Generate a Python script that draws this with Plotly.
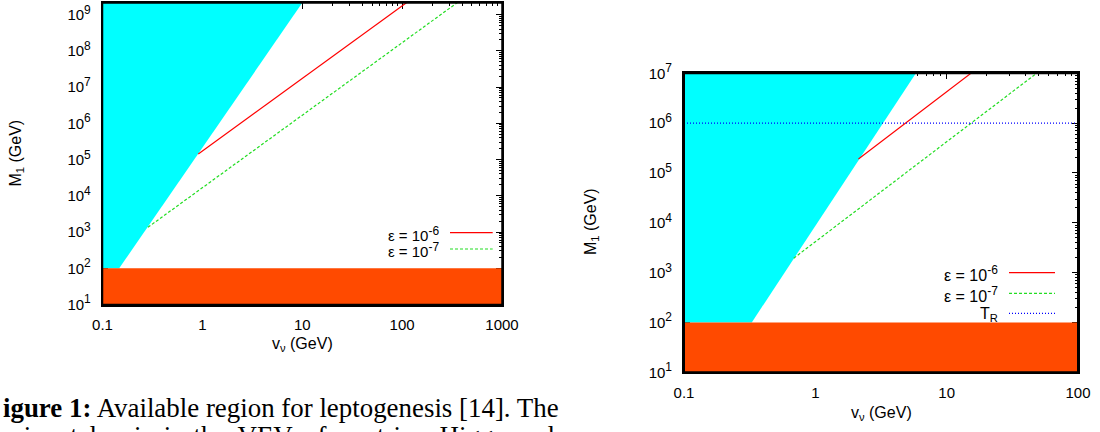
import plotly.graph_objects as go

# ---------------- data ----------------
# Left panel
L_CYAN_V = [0.1, 0.147, 10.1, 0.1]
L_CYAN_M = [100, 100, 2.2e9, 2.2e9]
L_ORANGE_V = [0.1, 1000, 1000, 0.1]
L_ORANGE_M = [10, 10, 100, 100]
L_RED_V = [0.91, 115]
L_RED_M = [1.42e5, 2.3e9]
L_GREEN_V = [0.285, 370]
L_GREEN_M = [1.35e3, 2.3e9]

# Right panel
R_CYAN_V = [0.1, 0.328, 5.83, 0.1]
R_CYAN_M = [100, 100, 1e7, 1e7]
R_ORANGE_V = [0.1, 100, 100, 0.1]
R_ORANGE_M = [10, 10, 100, 100]
R_RED_V = [2.13, 15.3]
R_RED_M = [1.9e5, 1e7]
R_GREEN_V = [0.685, 48.4]
R_GREEN_M = [1.95e3, 1e7]
R_TR_V = [0.1, 100]
R_TR_M = [1e6, 1e6]

L_XTICKS = [0.1, 1, 10, 100, 1000]
L_XTEXT = ["0.1", "1", "10", "100", "1000"]
R_XTICKS = [0.1, 1, 10, 100]
R_XTEXT = ["0.1", "1", "10", "100"]
L_YTICKS = [1e1, 1e2, 1e3, 1e4, 1e5, 1e6, 1e7, 1e8, 1e9]
L_YEXP = [1, 2, 3, 4, 5, 6, 7, 8, 9]
R_YTICKS = [1e1, 1e2, 1e3, 1e4, 1e5, 1e6, 1e7]
R_YEXP = [1, 2, 3, 4, 5, 6, 7]

SUP = "<sup><span style='font-size:12px'>%s</span></sup>"
L_YTEXT = ["10" + SUP % k for k in L_YEXP]
R_YTEXT = ["10" + SUP % k for k in R_YEXP]

LEG_LEFT = ["ε = 10" + SUP % "-6", "ε = 10" + SUP % "-7"]
LEG_RIGHT = ["ε = 10" + SUP % "-6", "ε = 10" + SUP % "-7", "T<sub>R</sub>"]

CAPTION1 = "<b>igure 1:</b> Available region for leptogenesis [14]. The"
CAPTION2 = ("<span style='word-spacing:5px'>horizontal axis is the VEV of "
            "neutrino Higgs and</span>")

CYAN = "#00ffff"
ORANGE = "#ff4a00"
RED = "#ff0000"
GREEN = "#22dd22"
BLUE = "#0000ff"
FONT = "Liberation Sans"

W, H = 1100, 432


def X(px):
    return px / W


def Y(py):
    return 1 - py / H


def minor_vals(lo, hi):
    vals = []
    for e in range(lo, hi):
        for d in range(2, 10):
            vals.append(d * 10.0 ** e)
    return vals


fig = go.Figure()


def poly(v, m, color, xa, ya):
    fig.add_trace(go.Scatter(x=v, y=m, mode="lines", fill="toself",
                             fillcolor=color, line=dict(width=0, color=color),
                             xaxis=xa, yaxis=ya, hoverinfo="skip", showlegend=False))


def line(v, m, color, dash, xa, ya, w=1.2):
    fig.add_trace(go.Scatter(x=v, y=m, mode="lines",
                             line=dict(color=color, width=w, dash=dash),
                             xaxis=xa, yaxis=ya, hoverinfo="skip", showlegend=False))


# left panel
poly(L_CYAN_V, L_CYAN_M, CYAN, "x", "y")
poly(L_ORANGE_V, L_ORANGE_M, ORANGE, "x", "y")
line(L_RED_V, L_RED_M, RED, "solid", "x", "y")
line(L_GREEN_V, L_GREEN_M, GREEN, "3px,2px", "x", "y")

# right panel
poly(R_CYAN_V, R_CYAN_M, CYAN, "x2", "y2")
poly(R_ORANGE_V, R_ORANGE_M, ORANGE, "x2", "y2")
line(R_RED_V, R_RED_M, RED, "solid", "x2", "y2")
line(R_GREEN_V, R_GREEN_M, GREEN, "3px,2px", "x2", "y2")
line(R_TR_V, R_TR_M, BLUE, "1px,2px", "x2", "y2")


def axis(rng, domain, anchor, tickvals, ticktext, minor, standoff, lw):
    return dict(type="log", range=rng, domain=domain, anchor=anchor,
                tickmode="array", tickvals=tickvals, ticktext=ticktext,
                ticks="inside", ticklen=6, tickwidth=1, tickcolor="black",
                minor=dict(tickmode="array", tickvals=minor, ticks="inside",
                           ticklen=3, tickwidth=1, tickcolor="black", showgrid=False),
                showline=True, linecolor="black", linewidth=lw, mirror="ticks",
                showgrid=False, zeroline=False, layer="below traces",
                automargin=False, ticklabelstandoff=standoff,
                tickfont=dict(family=FONT, size=15, color="black"))


fig.update_layout(
    width=W, height=H, margin=dict(l=0, r=0, t=0, b=0, autoexpand=False),
    paper_bgcolor="white", plot_bgcolor="white", showlegend=False,
    xaxis=axis([-1, 3], [X(102.5), X(502)], "y", L_XTICKS, L_XTEXT,
               minor_vals(-1, 3), 6, 1.5),
    yaxis=axis([1, 9.32], [Y(304.5), Y(3)], "x", L_YTICKS, L_YTEXT,
               minor_vals(1, 10), 7, 1.5),
    xaxis2=axis([-1, 2], [X(684), X(1078)], "y2", R_XTICKS, R_XTEXT,
                minor_vals(-1, 2), 6, 2),
    yaxis2=axis([1, 7], [Y(372.3), Y(73.3)], "x2", R_YTICKS, R_YTEXT,
                minor_vals(1, 7), 7, 2),
)

shapes = []
# frames on top of fills
for xa, ya, lw in [("x", "y", 1.5), ("x2", "y2", 2)]:
    shapes.append(dict(type="rect", xref=xa + " domain", yref=ya + " domain",
                       x0=0, x1=1, y0=0, y1=1, line=dict(color="black", width=lw),
                       layer="above"))

annotations = []


def ann(text, x, y, size=15, xanchor="center", yanchor="middle", angle=0,
        family=FONT):
    annotations.append(dict(text=text, x=X(x), y=Y(y), xref="paper", yref="paper",
                            xanchor=xanchor, yanchor=yanchor, textangle=angle,
                            showarrow=False,
                            font=dict(family=family, size=size, color="black")))


# legends
leg_left_y = [232.7, 249.0]
for t, yy, col, dash in zip(LEG_LEFT, leg_left_y, [RED, GREEN], ["solid", "3px,2px"]):
    ann(t, 441, yy + 1, size=15, xanchor="right")
    shapes.append(dict(type="line", xref="paper", yref="paper", x0=X(450), x1=X(492.7),
                       y0=Y(yy), y1=Y(yy), line=dict(color=col, width=1.2, dash=dash)))

leg_right_y = [272.7, 293.3, 313.3]
for t, yy, col, dash in zip(LEG_RIGHT, leg_right_y, [RED, GREEN, BLUE],
                            ["solid", "3px,2px", "1px,2px"]):
    ann(t, 1000, yy + 1, size=16, xanchor="right")
    shapes.append(dict(type="line", xref="paper", yref="paper", x0=X(1009), x1=X(1055),
                       y0=Y(yy), y1=Y(yy), line=dict(color=col, width=1.2, dash=dash)))

# axis titles
ann("v<sub>ν</sub> (GeV)", 302, 344, size=16)
ann("M<sub>1</sub> (GeV)", 16, 153.5, size=16, angle=-90)
ann("v<sub>ν</sub> (GeV)", 881, 413, size=16)
ann("M<sub>1</sub> (GeV)", 592, 222, size=16, angle=-90)

# caption fragment
ann(CAPTION1, 1, 408, size=26.9, xanchor="left", family="Liberation Serif")
ann(CAPTION2, -14, 436, size=26.9, xanchor="left", family="Liberation Serif")

fig.update_layout(shapes=shapes, annotations=annotations)

fig.write_html("out.html",
               config={"displayModeBar": False},
               post_script="document.body.style.margin='0';"
                           "document.body.style.overflow='hidden';")
